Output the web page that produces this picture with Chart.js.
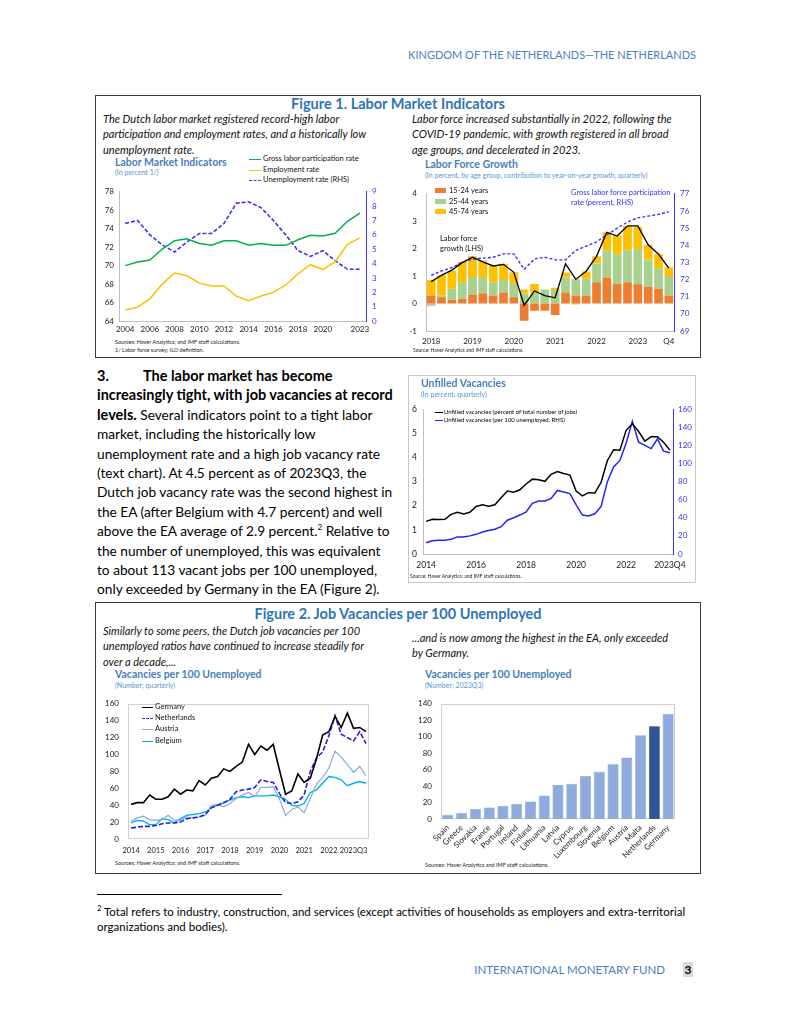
<!DOCTYPE html>
<html><head><meta charset="utf-8">
<script src="https://cdn.jsdelivr.net/npm/chart.js@4.4.0/dist/chart.umd.min.js"></script>
<style>
html,body{margin:0;padding:0;background:#fff;}
body{width:791px;height:1024px;position:relative;overflow:hidden;font-family:Lato,'Open Sans',sans-serif;color:#000;}
.t{position:absolute;white-space:nowrap;line-height:1;}
canvas{position:absolute;}
.box{position:absolute;border:1px solid #3a3a3a;box-sizing:border-box;}
.ct{font-weight:bold;font-size:10.5px;color:#4a7ebb;}
.cs{font-size:7px;color:#5b95d0;}
.src{font-size:5.5px;color:#222;}
.lg{font-size:7.5px;color:#111;}
.cap{font-style:italic;font-size:11px;line-height:15.4px;color:#111;}
.ft{font-weight:bold;font-size:14.5px;color:#2e75b6;text-align:center;}
.sw{position:absolute;height:0;}
.bx{position:absolute;width:11px;height:5px;}
</style></head><body>

<div class="t" style="right:95px;top:49px;font-size:11px;color:#4a7fc1;">KINGDOM OF THE NETHERLANDS—THE NETHERLANDS</div>

<!-- Figure 1 -->
<div class="box" style="left:95px;top:95px;width:606px;height:263px;"></div>
<div class="t ft" style="left:95px;top:97px;width:606px;">Figure 1. Labor Market Indicators</div>
<div class="t cap" style="left:103px;top:111px;">The Dutch labor market registered record-high labor<br>participation and employment rates, and a historically low<br>unemployment rate.</div>
<div class="t cap" style="left:412px;top:111px;">Labor force increased substantially in 2022, following the<br>COVID-19 pandemic, with growth registered in all broad<br>age groups, and decelerated in 2023.</div>

<div class="t ct" style="left:115px;top:157px;">Labor Market Indicators</div>
<div class="t cs" style="left:115px;top:169px;">(In percent 1/)</div>
<div class="sw" style="left:249px;top:159px;width:12px;border-top:1.5px solid #00b050;"></div>
<div class="t lg" style="left:263px;top:155px;">Gross labor participation rate</div>
<div class="sw" style="left:249px;top:170px;width:12px;border-top:1.5px solid #ffc000;"></div>
<div class="t lg" style="left:263px;top:166px;">Employment rate</div>
<div class="sw" style="left:249px;top:180px;width:12px;border-top:1.5px dashed #3333ff;"></div>
<div class="t lg" style="left:263px;top:176px;">Unemployment rate (RHS)</div>
<canvas id="c1" width="285" height="157" style="left:100px;top:181px;width:285px;height:157px;"></canvas>
<div class="t src" style="left:115px;top:340px;">Sources: Haver Analytics; and IMF staff calculations.</div>
<div class="t src" style="left:115px;top:348px;">1/ Labor force survey; ILO definition.</div>

<div class="t ct" style="left:425px;top:159px;">Labor Force Growth</div>
<div class="t cs" style="left:425px;top:172px;">(In percent, by age group, contribution to year-on-year growth, quarterly)</div>
<canvas id="c2" width="290" height="170" style="left:405px;top:180px;width:290px;height:170px;"></canvas>
<div class="bx" style="left:435px;top:188px;background:#ed7d31;"></div>
<div class="t lg" style="left:449px;top:187px;">15-24 years</div>
<div class="bx" style="left:435px;top:199px;background:#a9d18e;"></div>
<div class="t lg" style="left:449px;top:198px;">25-44 years</div>
<div class="bx" style="left:435px;top:209px;background:#ffc000;"></div>
<div class="t lg" style="left:449px;top:208px;">45-74 years</div>
<div class="t lg" style="left:440px;top:234px;line-height:10px;">Labor force<br>growth (LHS)</div>
<div class="t lg" style="left:571px;top:188px;line-height:10px;color:#3333ff;">Gross labor force participation<br>rate (percent, RHS)</div>
<div class="t src" style="left:413px;top:348px;font-size:5px;">Source: Haver Analytics and IMF staff calculations.</div>

<!-- body text -->
<div class="t" style="left:97px;top:366px;font-size:13.7px;line-height:19.4px;"><b style="font-size:14.5px;"><span style="display:inline-block;width:46px;">3.</span>The labor market has become<br>increasingly tight, with job vacancies at record<br>levels.</b> Several indicators point to a tight labor<br>market, including the historically low<br>unemployment rate and a high job vacancy rate<br>(text chart). At 4.5 percent as of 2023Q3, the<br>Dutch job vacancy rate was the second highest in<br>the EA (after Belgium with 4.7 percent) and well<br>above the EA average of 2.9 percent.<sup style="font-size:8px;line-height:0;">2</sup> Relative to<br>the number of unemployed, this was equivalent<br>to about 113 vacant jobs per 100 unemployed,<br>only exceeded by Germany in the EA (Figure 2).</div>

<!-- Unfilled vacancies -->
<div class="box" style="left:408px;top:375px;width:288px;height:208px;border-color:#c8c8c8;"></div>
<div class="t ct" style="left:421px;top:378px;">Unfilled Vacancies</div>
<div class="t cs" style="left:421px;top:391px;">(In percent, quarterly)</div>
<canvas id="c3" width="285" height="177" style="left:408px;top:398px;width:285px;height:177px;"></canvas>
<div class="sw" style="left:435px;top:412px;width:8px;border-top:1.3px solid #000;"></div>
<div class="t" style="left:444px;top:409px;font-size:6px;">Unfilled vacancies (percent of total number of jobs)</div>
<div class="sw" style="left:435px;top:420px;width:8px;border-top:1.3px solid #2222ff;"></div>
<div class="t" style="left:444px;top:417px;font-size:6px;">Unfilled vacancies (per 100 unemployed, RHS)</div>
<div class="t src" style="left:410px;top:574px;font-size:5px;">Source: Haver Analytics; and IMF staff calculations.</div>

<!-- Figure 2 -->
<div class="box" style="left:95px;top:602px;width:606px;height:272px;"></div>
<div class="t ft" style="left:95px;top:607px;width:606px;">Figure 2. Job Vacancies per 100 Unemployed</div>
<div class="t cap" style="left:103px;top:623px;">Similarly to some peers, the Dutch job vacancies per 100<br>unemployed ratios have continued to increase steadily for<br>over a decade,...</div>
<div class="t cap" style="left:412px;top:630px;">...and is now among the highest in the EA, only exceeded<br>by Germany.</div>

<div class="t ct" style="left:115px;top:669px;">Vacancies per 100 Unemployed</div>
<div class="t cs" style="left:115px;top:682px;">(Number; quarterly)</div>
<canvas id="c4" width="280" height="168" style="left:100px;top:690px;width:280px;height:168px;"></canvas>
<div class="sw" style="left:142px;top:707px;width:11px;border-top:1.5px solid #000;"></div>
<div class="t lg" style="left:155px;top:703px;">Germany</div>
<div class="sw" style="left:142px;top:718px;width:11px;border-top:1.5px dashed #2222dd;"></div>
<div class="t lg" style="left:155px;top:714px;">Netherlands</div>
<div class="sw" style="left:142px;top:729px;width:11px;border-top:1.2px solid #8ea9db;"></div>
<div class="t lg" style="left:155px;top:725px;">Austria</div>
<div class="sw" style="left:142px;top:741px;width:11px;border-top:1.5px solid #00b0f0;"></div>
<div class="t lg" style="left:155px;top:737px;">Belgium</div>
<div class="t src" style="left:115px;top:861px;">Sources: Haver Analytics; and IMF staff calculations.</div>

<div class="t ct" style="left:425px;top:669px;">Vacancies per 100 Unemployed</div>
<div class="t cs" style="left:425px;top:682px;">(Number; 2023Q3)</div>
<canvas id="c5" width="282" height="172" style="left:410px;top:690px;width:282px;height:172px;"></canvas>
<div class="t src" style="left:425px;top:863px;">Sources: Haver Analytics and IMF staff calculations.</div>

<!-- footnote & footer -->
<div style="position:absolute;left:97px;top:894px;width:185px;height:1px;background:#000;"></div>
<div class="t" style="left:97px;top:904px;font-size:11.5px;line-height:15px;"><sup style="font-size:7.5px;line-height:0;">2</sup> Total refers to industry, construction, and services (except activities of households as employers and extra-territorial<br>organizations and bodies).</div>
<div class="t" style="right:126px;top:964px;font-size:11.5px;color:#4a7fc1;">INTERNATIONAL MONETARY FUND</div>
<div class="t" style="left:683px;top:962px;width:10px;height:15px;background:#d9d9d9;font-weight:bold;font-size:12px;line-height:15px;text-align:center;">3</div>

<script>
// ---------- data ----------
const lmYears = [2004,2005,2006,2007,2008,2009,2010,2011,2012,2013,2014,2015,2016,2017,2018,2019,2020,2021,2022,2023];
const grossParticipation = [70.0,70.4,70.6,71.8,72.7,72.9,72.4,72.2,72.7,72.7,72.2,72.4,72.2,72.2,72.8,73.3,73.2,73.5,74.8,75.7];
const employmentRate = [65.2,65.5,66.4,68.0,69.2,68.9,68.1,67.8,67.8,66.7,66.2,66.7,67.1,67.9,69.1,70.1,69.6,70.4,72.3,73.0];
const unemploymentRate = [6.8,7.0,6.0,5.3,4.8,5.5,6.1,6.1,6.8,8.2,8.3,7.9,7.0,6.0,4.9,4.5,4.9,4.2,3.6,3.6];

const lfQuarters = ['2018Q1','2018Q2','2018Q3','2018Q4','2019Q1','2019Q2','2019Q3','2019Q4','2020Q1','2020Q2','2020Q3','2020Q4','2021Q1','2021Q2','2021Q3','2021Q4','2022Q1','2022Q2','2022Q3','2022Q4','2023Q1','2023Q2','2023Q3','2023Q4'];
const age15to24 = [0.29,0.23,0.14,0.17,0.31,0.38,0.29,0.40,0.23,-0.63,-0.26,-0.26,-0.42,0.40,0.29,0.29,0.78,0.95,0.72,0.78,0.70,0.61,0.54,0.29];
const age25to44 = [-0.08,0.06,0.40,0.61,0.66,0.59,0.48,0.46,0.48,0.37,0.38,0.51,0.49,0.55,0.60,0.63,0.68,0.99,1.08,1.16,1.28,0.99,0.75,0.71];
const age45to74 = [0.57,0.74,0.66,0.74,0.75,0.60,0.60,0.59,0.43,0.14,0.33,0.00,0.09,0.18,-0.03,0.25,0.26,0.66,0.68,0.89,0.82,0.54,0.51,0.32];
const laborForceGrowth = [0.80,1.03,1.22,1.49,1.69,1.52,1.37,1.43,1.14,-0.06,0.46,0.29,0.21,1.45,0.88,1.18,1.72,2.60,2.46,2.83,2.83,2.14,1.80,1.29];
const grossParticipationQ = [72.24,72.50,72.70,73.00,73.20,73.25,73.30,73.50,73.50,72.60,73.20,73.30,73.15,73.15,73.70,73.95,74.20,74.60,75.00,75.35,75.60,75.70,75.80,75.95];

const uvQuarters = ['2014Q1','2014Q2','2014Q3','2014Q4','2015Q1','2015Q2','2015Q3','2015Q4','2016Q1','2016Q2','2016Q3','2016Q4','2017Q1','2017Q2','2017Q3','2017Q4','2018Q1','2018Q2','2018Q3','2018Q4','2019Q1','2019Q2','2019Q3','2019Q4','2020Q1','2020Q2','2020Q3','2020Q4','2021Q1','2021Q2','2021Q3','2021Q4','2022Q1','2022Q2','2022Q3','2022Q4','2023Q1','2023Q2','2023Q3','2023Q4'];
const vacancyRate = [1.35,1.44,1.43,1.44,1.64,1.73,1.66,1.73,1.97,2.04,1.98,2.04,2.33,2.61,2.56,2.66,2.90,3.10,3.07,3.01,3.30,3.41,3.33,3.27,2.61,2.41,2.54,2.53,2.97,3.87,4.32,4.30,5.12,5.39,5.07,4.67,4.86,4.86,4.63,4.30];
const vacanciesPer100 = [12.5,14.6,15.3,15.3,16.4,18.9,18.9,20.0,21.7,24.2,26.0,27.4,30.2,37.3,40.0,43.0,46.5,56.0,58.6,58.6,61.4,70.2,68.5,66.7,54.3,43.0,41.9,44.4,52.5,79.9,96.2,103.3,122.4,146.5,123.5,119.9,116.4,127.0,113.5,111.8];

const vpQuarters = uvQuarters.slice(0, 39);
const germany = [41,43,43,52,47,47,50,59,53,58,57,69,64,72,74,83,80,86,91,112,100,110,105,112,82,53,57,77,67,72,95,123,127,145,132,149,131,132,127];
const netherlands = [13,14,15,15,16,18,19,19,20,24,25,26,29,37,40,43,47,56,58,59,61,70,68,67,54,43,42,44,52,80,96,103,122,146,124,120,116,127,113];
const austria = [21,25,27,23,22,23,28,22,22,26,25,26,28,40,41,38,42,48,52,55,50,61,61,62,48,28,35,38,31,48,65,73,84,104,97,88,79,86,75];
const belgium = [19,22,21,17,17,24,23,19,24,28,29,30,32,37,40,43,46,49,50,49,51,51,51,52,50,47,40,39,42,55,58,66,74,73,70,63,66,68,66];

const countries = ['Spain','Greece','Slovakia','France','Portugal','Ireland','Finland','Lithuania','Latvia','Cyprus','Luxembourg','Slovenia','Belgium','Austria','Malta','Netherlands','Germany'];
const vacancies2023Q3 = [5.3,7.3,12.2,14.1,16.0,18.3,21.4,28.6,41.2,42.7,52.3,57.3,66.4,74.8,101.9,112.6,127.8];

// ---------- setup ----------
Chart.defaults.font.family = "Lato, 'Open Sans', sans-serif";
Chart.defaults.color = '#222';
Chart.defaults.animation = false;
Chart.defaults.plugins.legend.display = false;
Chart.defaults.plugins.tooltip.enabled = false;
Chart.defaults.elements.point.radius = 0;
Chart.defaults.elements.line.tension = 0;

const W = v => s => { s.width = v; };
const H = v => s => { s.height = v; };
const frame = color => ({ id: 'frame', beforeDatasetsDraw(c) {
  const a = c.chartArea, x = c.ctx; x.save(); x.strokeStyle = color; x.lineWidth = 1;
  x.strokeRect(Math.round(a.left) + 0.5, Math.round(a.top) + 0.5, Math.round(a.width) - 1, Math.round(a.height) - 1); x.restore(); } });
const gray = '#bfbfbf', blue = '#3333ff';
const noGrid = { display: false, drawTicks: false };

// Chart 1
new Chart(document.getElementById('c1'), {
  type: 'line',
  data: { labels: lmYears, datasets: [
    { data: grossParticipation, borderColor: '#00b050', borderWidth: 1.5, yAxisID: 'y' },
    { data: employmentRate, borderColor: '#ffc000', borderWidth: 1.5, yAxisID: 'y' },
    { data: unemploymentRate, borderColor: blue, borderWidth: 1.6, borderDash: [4, 2], yAxisID: 'y1' }
  ]},
  options: { responsive: false, layout: { padding: { top: 5 } },
    scales: {
      x: { offset: true, grid: noGrid, border: { color: gray }, afterFit: H(17),
        ticks: { autoSkip: false, maxRotation: 0, font: { size: 8 }, padding: 4,
          callback: (v, i) => { const y = lmYears[i]; return ((y % 2 === 0 && y <= 2020) || y === 2023) ? String(y) : ''; } } },
      y: { position: 'left', min: 64, max: 78, grid: noGrid, border: { color: gray }, afterFit: W(19),
        ticks: { stepSize: 2, font: { size: 8 }, padding: 5 } },
      y1: { position: 'right', min: 0, max: 9, grid: noGrid, border: { color: blue }, afterFit: W(19),
        ticks: { stepSize: 1, font: { size: 8 }, color: blue, padding: 6 } }
    } }
});

// Chart 2
new Chart(document.getElementById('c2'), {
  type: 'bar',
  data: { labels: lfQuarters, datasets: [
    { type: 'line', data: laborForceGrowth, borderColor: '#000', borderWidth: 1.3, yAxisID: 'y', stack: 'lf', order: 0 },
    { type: 'line', data: grossParticipationQ, borderColor: blue, borderWidth: 1.4, borderDash: [3, 2], yAxisID: 'y1', stack: 'gp', order: 0 },
    { data: age15to24, backgroundColor: '#ed7d31', yAxisID: 'y', order: 1, stack: 'age' },
    { data: age25to44, backgroundColor: '#a9d18e', yAxisID: 'y', order: 1, stack: 'age' },
    { data: age45to74, backgroundColor: '#ffc000', yAxisID: 'y', order: 1, stack: 'age' }
  ]},
  options: { responsive: false, layout: { padding: { top: 5 } },
    datasets: { bar: { barPercentage: 0.84, categoryPercentage: 1 } },
    scales: {
      x: { stacked: true, offset: true, grid: noGrid, border: { color: gray }, afterFit: H(19),
        ticks: { autoSkip: false, maxRotation: 0, font: { size: 8 }, padding: 6,
          callback: (v, i) => i === lfQuarters.length - 1 ? 'Q4' : (lfQuarters[i].endsWith('Q1') ? lfQuarters[i].slice(0, 4) : '') } },
      y: { stacked: true, position: 'left', min: -1, max: 4, grid: noGrid, border: { color: gray }, afterFit: W(21),
        ticks: { stepSize: 1, font: { size: 8 }, padding: 9 } },
      y1: { position: 'right', min: 69, max: 77, grid: noGrid, border: { color: blue }, afterFit: W(21),
        ticks: { stepSize: 1, font: { size: 8 }, color: '#3a3ad0', padding: 6 } }
    } }
});

// Chart 3
new Chart(document.getElementById('c3'), {
  type: 'line',
  data: { labels: uvQuarters, datasets: [
    { data: vacancyRate, borderColor: '#000', borderWidth: 1.5, yAxisID: 'y' },
    { data: vacanciesPer100, borderColor: '#2222ff', borderWidth: 1.5, yAxisID: 'y1' }
  ]},
  options: { responsive: false, layout: { padding: { top: 6 } },
    scales: {
      x: { offset: true, grid: noGrid, border: { color: gray }, afterFit: H(21),
        ticks: { autoSkip: false, maxRotation: 0, font: { size: 8.5 }, padding: 6,
          callback: (v, i) => { const q = uvQuarters[i]; if (i === uvQuarters.length - 1) return q; return (q.endsWith('Q1') && (+q.slice(0, 4)) % 2 === 0) ? q.slice(0, 4) : ''; } } },
      y: { position: 'left', min: 0, max: 6, grid: noGrid, border: { color: gray }, afterFit: W(15),
        ticks: { stepSize: 1, font: { size: 8.5 }, padding: 6 } },
      y1: { position: 'right', min: 0, max: 160, grid: noGrid, border: { color: blue }, afterFit: W(20),
        ticks: { stepSize: 20, font: { size: 8 }, color: blue, padding: 5 } }
    } }
});

// Chart 4
new Chart(document.getElementById('c4'), {
  type: 'line',
  data: { labels: vpQuarters, datasets: [
    { data: germany, borderColor: '#000', borderWidth: 1.6 },
    { data: netherlands, borderColor: '#2222dd', borderWidth: 1.6, borderDash: [5, 2] },
    { data: austria, borderColor: '#8ea9db', borderWidth: 1.2 },
    { data: belgium, borderColor: '#00b0f0', borderWidth: 1.4 }
  ]},
  plugins: [frame('#d0d0d0')],
  options: { responsive: false, layout: { padding: { top: 6, right: 11 } },
    scales: {
      x: { offset: true, grid: noGrid, border: { display: false }, afterFit: H(19),
        ticks: { autoSkip: false, maxRotation: 0, font: { size: 7.5 }, padding: 7,
          callback: (v, i) => i === 36 ? '2023Q3' : (vpQuarters[i].endsWith('Q1') ? vpQuarters[i].slice(0, 4) : '') } },
      y: { min: 0, max: 160, grid: noGrid, border: { display: false }, afterFit: W(28),
        ticks: { stepSize: 20, font: { size: 8 }, padding: 9 } }
    } }
});

// Chart 5
new Chart(document.getElementById('c5'), {
  type: 'bar',
  data: { labels: countries, datasets: [
    { data: vacancies2023Q3, backgroundColor: countries.map(c => c === 'Netherlands' ? '#2f5597' : '#8faadc'),
      borderColor: countries.map(c => c === 'Netherlands' ? '#203864' : '#7f9bd0'), borderWidth: 0.6,
      barPercentage: 0.8, categoryPercentage: 1 }
  ]},
  plugins: [frame('#d0d0d0')],
  options: { responsive: false, layout: { padding: { top: 7, right: 17 } },
    scales: {
      x: { grid: noGrid, border: { display: false }, afterFit: H(43),
        ticks: { autoSkip: false, minRotation: 45, maxRotation: 45, font: { size: 8 }, padding: 4 } },
      y: { min: 0, max: 140, grid: noGrid, border: { display: false }, afterFit: W(31),
        ticks: { stepSize: 20, font: { size: 8 }, padding: 9 } }
    } }
});
</script>
</body></html>
